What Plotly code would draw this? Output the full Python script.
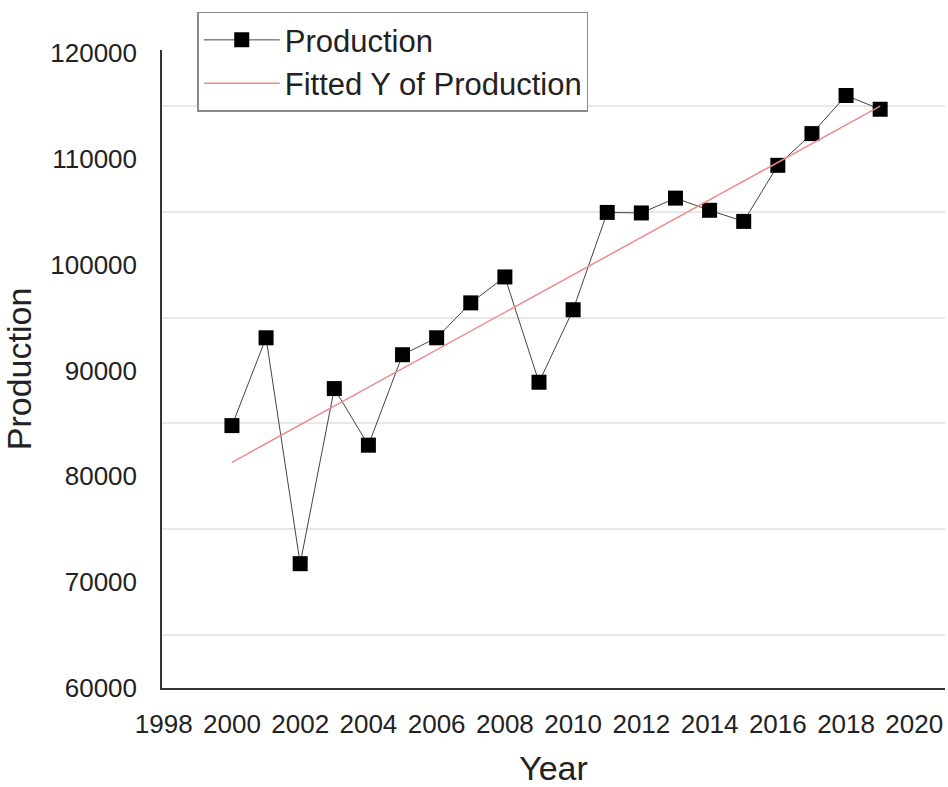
import numpy as np
import plotly.graph_objects as go

# Annual production series
years = [2000, 2001, 2002, 2003, 2004, 2005, 2006, 2007, 2008, 2009,
         2010, 2011, 2012, 2013, 2014, 2015, 2016, 2017, 2018, 2019]
production = [84800, 93100, 71750, 88300, 82950, 91500, 93100, 96400, 98850, 88900,
              95750, 104950, 104900, 106300, 105150, 104100, 109400, 112400, 116000, 114700]

x_ticks = [1998, 2000, 2002, 2004, 2006, 2008, 2010, 2012, 2014, 2016, 2018, 2020]
y_ticks = [60000, 70000, 80000, 90000, 100000, 110000, 120000]
# Horizontal guide lines sit halfway between labelled ticks
grid_levels = [65000, 75000, 85000, 95000, 105000, 115000]

# Least-squares linear trend of production over years
slope, intercept = np.polyfit(years, production, 1)
fitted = [slope * y + intercept for y in years]

FONT = "Liberation Sans, Arial, sans-serif"
TXT = "#222222"
Y_RANGE = [60000, 120300]

fig = go.Figure()
fig.add_trace(go.Scatter(
    x=years, y=production, name="Production", mode="lines+markers",
    line=dict(color="#444444", width=1),
    marker=dict(symbol="square", size=15, color="black"),
))
fig.add_trace(go.Scatter(
    x=years, y=fitted, name="Fitted Y of Production", mode="lines",
    line=dict(color="#f08a8a", width=1.5),
))

fig.update_layout(
    width=948, height=787,
    margin=dict(l=162, r=3, t=50, b=99),
    paper_bgcolor="white", plot_bgcolor="white",
    font=dict(family=FONT, color=TXT),
    showlegend=True,
    legend=dict(
        x=0.045, y=1.06, xanchor="left", yanchor="top",
        bgcolor="white", bordercolor="#8a8a8a", borderwidth=1.5,
        font=dict(size=31, family=FONT, color=TXT),
        itemwidth=76, tracegroupgap=0,
    ),
    xaxis=dict(
        range=[1997.95, 2020.9],
        tickvals=x_ticks, ticktext=[str(v) for v in x_ticks],
        showgrid=False, zeroline=False,
        showline=True, linecolor="#333333", linewidth=1.5,
        ticks="", ticklabelstandoff=12,
        tickfont=dict(size=26, family=FONT, color=TXT),
        title=dict(text="Year", font=dict(size=34, family=FONT, color=TXT), standoff=18),
    ),
    yaxis=dict(
        range=Y_RANGE,
        tickvals=y_ticks, ticktext=[str(v) for v in y_ticks],
        showgrid=False, zeroline=False,
        showline=True, linecolor="#333333", linewidth=1.5,
        ticks="", ticklabelstandoff=18,
        tickfont=dict(size=26, family=FONT, color=TXT),
        title=dict(text="Production", font=dict(size=34, family=FONT, color=TXT), standoff=8),
    ),
    # overlay axis that only carries the guide lines
    yaxis2=dict(
        range=Y_RANGE, overlaying="y", matches="y",
        tickvals=grid_levels, showticklabels=False, ticks="",
        showgrid=True, gridcolor="#e8e8e8", gridwidth=1.5,
        zeroline=False, showline=False, layer="below traces",
    ),
)
# hidden trace anchoring the grid axis
fig.add_trace(go.Scatter(x=[years[0]], y=[production[0]], yaxis="y2",
                         mode="markers", marker=dict(opacity=0), showlegend=False,
                         hoverinfo="skip"))

fig.write_html("out.html")
